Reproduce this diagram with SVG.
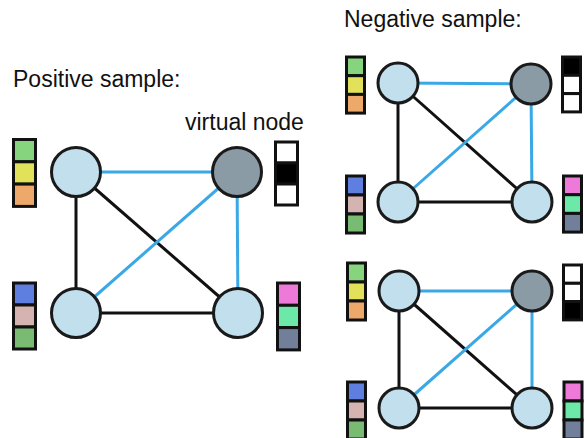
<svg xmlns="http://www.w3.org/2000/svg" width="584" height="438" viewBox="0 0 584 438">
<style>
text{font-family:"Liberation Sans",Arial,sans-serif;font-size:23px;fill:#111}
.n{fill:#c1dfec;stroke:#1a1a1a;stroke-width:3}
.v{fill:#8a9ba5;stroke:#1a1a1a;stroke-width:3}
.k{stroke:#111;stroke-width:3;fill:none}
.b{stroke:#3ba8e6;stroke-width:3;fill:none}
.c rect{stroke:#111;stroke-width:3}
.g1{fill:#86d57e}.y1{fill:#e1e15a}.o1{fill:#eca96a}
.bl{fill:#5f7fe0}.pk{fill:#d5b3b1}.g2{fill:#79bb72}
.mg{fill:#ed7ad9}.mt{fill:#6ce9a8}.sl{fill:#727f9a}
.w{fill:#fff}.bk{fill:#000}
</style>
<rect width="584" height="438" fill="#fff"/>
<text x="13" y="87">Positive sample:</text>
<text x="344" y="27">Negative sample:</text>
<text x="185" y="130">virtual node</text>

<g id="connectors">
<line class="k" x1="76" y1="172" x2="76" y2="313"/>
<line class="k" x1="76" y1="172" x2="238" y2="313"/>
<line class="k" x1="76" y1="313" x2="238" y2="313"/>
<line class="b" x1="76" y1="172" x2="237" y2="172"/>
<line class="b" x1="237" y1="172" x2="76" y2="313"/>
<line class="b" x1="237" y1="172" x2="238" y2="313"/>

<line class="k" x1="398" y1="83" x2="398" y2="202"/>
<line class="k" x1="398" y1="83" x2="532" y2="202"/>
<line class="k" x1="398" y1="202" x2="532" y2="202"/>
<line class="b" x1="398" y1="83" x2="531" y2="84"/>
<line class="b" x1="531" y1="84" x2="398" y2="202"/>
<line class="b" x1="531" y1="84" x2="532" y2="202"/>

<line class="k" x1="399" y1="291" x2="399" y2="408"/>
<line class="k" x1="399" y1="291" x2="532" y2="408"/>
<line class="k" x1="399" y1="408" x2="532" y2="408"/>
<line class="b" x1="399" y1="291" x2="532" y2="291"/>
<line class="b" x1="532" y1="291" x2="399" y2="408"/>
<line class="b" x1="532" y1="291" x2="532" y2="408"/>
</g>

<g id="pos-tl"><circle class="n" cx="76" cy="172" r="24.5"/>
<g class="c"><rect class="g1" x="13.5" y="139.5" width="22" height="22.3"/><rect class="y1" x="13.5" y="161.8" width="22" height="22.3"/><rect class="o1" x="13.5" y="184.1" width="22" height="22.3"/></g></g>
<g id="pos-bl"><circle class="n" cx="76" cy="313" r="24.5"/>
<g class="c"><rect class="bl" x="13.5" y="283" width="22" height="22"/><rect class="pk" x="13.5" y="305" width="22" height="22"/><rect class="g2" x="13.5" y="327" width="22" height="22"/></g></g>
<g id="pos-virtual"><circle class="v" cx="237" cy="172" r="24.5"/>
<g class="c"><rect class="w" x="275.5" y="142" width="22" height="21"/><rect class="bk" x="275.5" y="163" width="22" height="21"/><rect class="w" x="275.5" y="184" width="22" height="21"/></g></g>
<g id="pos-br"><circle class="n" cx="238" cy="313" r="24.5"/>
<g class="c"><rect class="mg" x="277.5" y="283" width="22" height="22.3"/><rect class="mt" x="277.5" y="305.3" width="22" height="22.3"/><rect class="sl" x="277.5" y="327.6" width="22" height="22.3"/></g></g>

<g id="neg1-tl"><circle class="n" cx="398" cy="83" r="20"/>
<g class="c"><rect class="g1" x="346.5" y="57" width="18" height="18.7"/><rect class="y1" x="346.5" y="75.7" width="18" height="18.7"/><rect class="o1" x="346.5" y="94.4" width="18" height="18.7"/></g></g>
<g id="neg1-tr"><circle class="v" cx="531" cy="84" r="20"/>
<g class="c"><rect class="bk" x="562.5" y="57" width="18" height="18.3"/><rect class="w" x="562.5" y="75.3" width="18" height="18.3"/><rect class="w" x="562.5" y="93.6" width="18" height="18.3"/></g></g>
<g id="neg1-bl"><circle class="n" cx="398" cy="202" r="20"/>
<g class="c"><rect class="bl" x="346.5" y="176" width="18" height="19"/><rect class="pk" x="346.5" y="195" width="18" height="19"/><rect class="g2" x="346.5" y="214" width="18" height="19"/></g></g>
<g id="neg1-br"><circle class="n" cx="532" cy="202" r="20"/>
<g class="c"><rect class="mg" x="563.5" y="176" width="18" height="18.7"/><rect class="mt" x="563.5" y="194.7" width="18" height="18.7"/><rect class="sl" x="563.5" y="213.4" width="18" height="18.7"/></g></g>

<g id="neg2-tl"><circle class="n" cx="399" cy="291" r="20"/>
<g class="c"><rect class="g1" x="347.5" y="263" width="18" height="19"/><rect class="y1" x="347.5" y="282" width="18" height="19"/><rect class="o1" x="347.5" y="301" width="18" height="19"/></g></g>
<g id="neg2-tr"><circle class="v" cx="532" cy="291" r="20"/>
<g class="c"><rect class="w" x="563.5" y="265" width="18" height="18.3"/><rect class="w" x="563.5" y="283.3" width="18" height="18.3"/><rect class="bk" x="563.5" y="301.6" width="18" height="18.3"/></g></g>
<g id="neg2-bl"><circle class="n" cx="399" cy="408" r="20"/>
<g class="c"><rect class="bl" x="347.5" y="382" width="18" height="19"/><rect class="pk" x="347.5" y="401" width="18" height="19"/><rect class="g2" x="347.5" y="420" width="18" height="19"/></g></g>
<g id="neg2-br"><circle class="n" cx="532" cy="408" r="20"/>
<g class="c"><rect class="mg" x="564" y="382" width="18" height="19"/><rect class="mt" x="564" y="401" width="18" height="19"/><rect class="sl" x="564" y="420" width="18" height="19"/></g></g>
</svg>
